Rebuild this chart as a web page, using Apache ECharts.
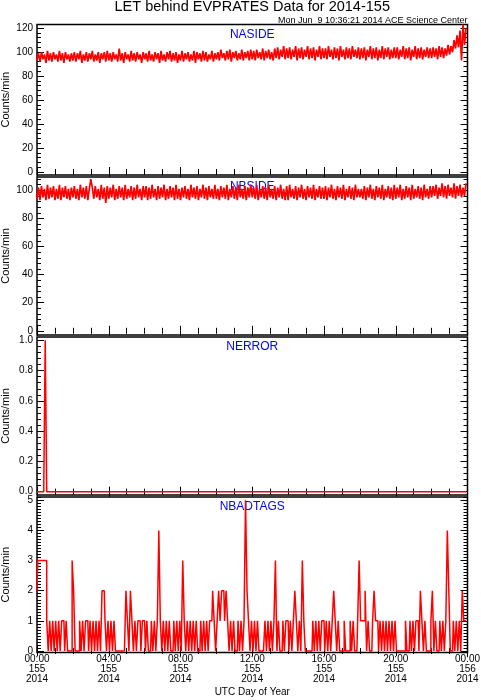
<!DOCTYPE html>
<html>
<head>
<meta charset="utf-8">
<script src="https://cdn.jsdelivr.net/npm/echarts@6/dist/echarts.min.js"></script>
<style>
  html, body { margin: 0; background: #fff; }
  #chart { width: 481px; height: 700px; }
</style>
</head>
<body>
<div id="chart"></div>
<script>
// 5-minute samples, 00:00 to 23:55 UTC, day 155 of 2014 (one row = 2 hours)
const naside = [
  93,99,92,100,94,98,91,101,93,99,92,100,94,98,92,101,93,99,91,100,94,98,92,99,
  93,100,92,99,94,101,91,98,93,100,92,99,94,101,92,98,93,100,91,99,94,100,92,101,
  93,99,92,100,94,98,92,103,93,99,91,100,94,98,92,101,93,99,92,100,94,98,91,100,
  94,99,92,101,93,98,92,100,94,99,91,101,93,98,92,100,94,101,92,99,93,100,91,98,
  93,101,92,99,94,100,92,98,93,101,91,100,94,99,92,101,93,100,92,98,94,101,92,99,
  94,100,93,102,95,99,93,101,94,102,92,100,95,101,93,99,94,102,93,100,95,101,93,102,
  94,101,93,102,95,100,94,103,93,101,95,102,94,100,93,103,95,104,94,102,96,105,94,103,
  95,104,94,102,96,105,93,103,95,104,94,102,96,105,94,103,95,104,93,102,96,105,94,103,
  95,103,94,105,96,102,94,104,95,103,93,105,96,102,94,104,95,103,94,105,96,102,95,104,
  94,103,95,104,93,102,96,105,94,103,95,104,93,102,95,105,94,103,96,104,94,102,95,104,
  95,104,94,102,96,105,94,103,95,104,93,102,96,105,94,103,95,104,94,102,96,104,95,103,
  95,104,96,103,94,105,96,104,95,103,97,106,98,105,100,110,103,114,104,118,93,123,106,120
]

const nbside = [
  94,102,93,103,95,101,93,104,94,102,95,103,93,101,94,104,93,102,95,103,94,101,93,102,
  95,103,94,101,93,104,95,102,94,103,93,101,108,102,94,103,95,101,93,104,94,102,91,103,
  94,102,95,104,93,101,94,103,95,102,93,104,94,101,95,103,93,102,94,104,95,101,93,103,
  95,103,93,102,94,104,95,101,93,103,94,102,95,104,93,101,94,103,95,102,93,104,94,101,
  93,102,95,103,94,101,93,104,95,102,94,103,93,101,95,104,94,102,93,103,95,101,94,104,
  94,101,93,103,95,102,94,104,93,101,95,103,94,102,93,104,95,101,94,103,93,102,95,104,
  95,102,94,104,93,101,95,103,94,102,93,104,95,101,94,103,93,102,95,104,94,101,93,103,
  93,104,95,101,94,103,93,102,95,104,94,101,93,103,95,102,94,104,93,101,95,103,94,102,
  94,103,93,102,95,104,94,101,93,103,95,102,94,104,93,101,95,103,94,102,93,104,95,101,
  95,101,94,103,93,102,95,104,94,101,93,103,95,102,94,104,93,101,95,103,94,102,93,104,
  94,102,95,104,93,101,94,103,95,102,93,104,94,101,95,103,94,102,93,104,95,101,94,103,
  95,103,96,104,94,102,96,105,95,103,94,104,96,102,95,105,94,103,96,104,95,102,96,105
]

const nerror = [
  0,0,0,0,0,0,1,0,0,0,0,0,0,0,0,0,0,0,0,0,0,0,0,0,
  0,0,0,0,0,0,0,0,0,0,0,0,0,0,0,0,0,0,0,0,0,0,0,0,
  0,0,0,0,0,0,0,0,0,0,0,0,0,0,0,0,0,0,0,0,0,0,0,0,
  0,0,0,0,0,0,0,0,0,0,0,0,0,0,0,0,0,0,0,0,0,0,0,0,
  0,0,0,0,0,0,0,0,0,0,0,0,0,0,0,0,0,0,0,0,0,0,0,0,
  0,0,0,0,0,0,0,0,0,0,0,0,0,0,0,0,0,0,0,0,0,0,0,0,
  0,0,0,0,0,0,0,0,0,0,0,0,0,0,0,0,0,0,0,0,0,0,0,0,
  0,0,0,0,0,0,0,0,0,0,0,0,0,0,0,0,0,0,0,0,0,0,0,0,
  0,0,0,0,0,0,0,0,0,0,0,0,0,0,0,0,0,0,0,0,0,0,0,0,
  0,0,0,0,0,0,0,0,0,0,0,0,0,0,0,0,0,0,0,0,0,0,0,0,
  0,0,0,0,0,0,0,0,0,0,0,0,0,0,0,0,0,0,0,0,0,0,0,0,
  0,0,0,0,0,0,0,0,0,0,0,0,0,0,0,0,0,0,0,0,0,0,0,0
]

const nbadtags = [
  2,3,3,3,3,3,3,1,0,1,0,1,0,1,0,1,0,1,1,0,1,0,0,0,
  3,2,0,0,0,1,0,1,0,1,1,0,1,0,1,0,1,0,1,0,2,2,1,0,
  1,0,1,0,1,0,0,0,0,0,0,0,2,1,0,2,1,0,1,0,1,1,0,1,
  1,0,1,0,0,1,0,1,0,1,4,1,0,1,0,1,0,1,0,0,1,0,1,0,
  1,0,3,1,0,1,0,1,0,1,0,1,0,0,1,0,1,0,1,0,1,1,2,1,
  0,1,2,1,2,2,1,2,1,0,1,0,1,0,0,1,0,1,0,1,5,2,1,0,
  1,0,1,0,1,0,0,0,0,1,0,1,0,1,0,1,3,0,1,0,0,1,0,1,
  1,0,1,0,1,2,1,0,1,0,3,1,0,0,0,0,0,1,0,1,0,1,0,1,
  1,0,1,0,1,0,1,2,1,0,1,0,0,0,1,0,0,0,1,0,1,0,0,1,
  3,1,1,1,2,0,1,0,0,1,2,1,1,0,1,0,1,0,1,0,1,0,1,0,
  1,0,0,0,0,0,0,1,0,0,1,0,1,0,1,1,0,2,1,0,1,0,0,0,
  1,2,0,1,0,0,1,0,1,0,1,4,2,0,0,1,0,1,0,1,0,2,1,1
]

const timeLabels = ['00:00\n155\n2014', '04:00\n155\n2014', '08:00\n155\n2014',
  '12:00\n155\n2014', '16:00\n155\n2014', '20:00\n155\n2014', '00:00\n156\n2014']

const yTicks1 = [0, 20, 40, 60, 80, 100, 120]
const yTicks2 = [0, 20, 40, 60, 80, 100]
const yTicks3 = [0, 0.2, 0.4, 0.6, 0.8, 1.0]
const yTicks4 = [0, 1, 2, 3, 4, 5]

const STEP_MIN = 5
const FONT = '"Liberation Sans", Arial, sans-serif'
const RED = '#ff0000'

const panels = [
  { label: 'NASIDE', data: naside, ticks: yTicks1, minor: 4, min: -2.5, max: 123, top: 24.5, height: 150.5, digits: 0, step: false },
  { label: 'NBSIDE', data: nbside, ticks: yTicks2, minor: 4, min: -3, max: 109.5, top: 177, height: 158, digits: 0, step: false },
  { label: 'NERROR', data: nerror, ticks: yTicks3, minor: 0.04, min: -0.022, max: 1.022, top: 337, height: 158, digits: 1, step: true },
  { label: 'NBADTAGS', data: nbadtags, ticks: yTicks4, minor: 0.1, min: -0.05, max: 5.11, top: 497, height: 155.5, digits: 0, step: true }
]

const LEFT = 37
const WIDTH = 430.5

function minorValues(p) {
  const out = []
  const k0 = Math.ceil(p.min / p.minor)
  const k1 = Math.floor(p.max / p.minor)
  for (let k = k0; k <= k1; k++) {
    const v = +(k * p.minor).toFixed(4)
    if (!p.ticks.some(t => Math.abs(t - v) < 1e-6)) out.push(v)
  }
  return out
}

const grids = []
const xAxes = []
const yAxes = []
const series = []
const graphics = []

panels.forEach((p, i) => {
  grids.push({
    left: LEFT, width: WIDTH, top: p.top, height: p.height,
    outerBoundsMode: 'none', containLabel: false,
    show: true, borderColor: '#000', borderWidth: 1.5, backgroundColor: 'transparent'
  })

  ;['bottom', 'top'].forEach(pos => {
    xAxes.push({
      gridIndex: i, type: 'value', position: pos, min: 0, max: 1440, interval: 240,
      axisLine: { show: false },
      splitLine: { show: false },
      axisTick: { inside: true, length: 5, lineStyle: { color: '#000', width: 1 } },
      minorTick: { show: true, splitNumber: 4, length: 3, lineStyle: { color: '#000', width: 1 } },
      axisLabel: {
        show: pos === 'bottom' && i === panels.length - 1,
        formatter: v => timeLabels[Math.round(v / 240)],
        fontFamily: FONT, fontSize: 10, color: '#000', lineHeight: 10, margin: 2,
        showMinLabel: true, showMaxLabel: true, hideOverlap: false
      }
    })
  })

  const minors = minorValues(p)
  ;['left', 'right'].forEach(pos => {
    yAxes.push({
      gridIndex: i, type: 'value', position: pos, min: p.min, max: p.max,
      axisLine: { show: false }, splitLine: { show: false },
      axisTick: { inside: true, length: 7, customValues: p.ticks, lineStyle: { color: '#000', width: 1 } },
      axisLabel: {
        show: pos === 'left', customValues: p.ticks,
        formatter: v => v.toFixed(p.digits),
        fontFamily: FONT, fontSize: 10, color: '#000', margin: 4
      },
      name: pos === 'left' ? 'Counts/min' : '',
      nameLocation: 'middle', nameGap: 26, nameMoveOverlap: false,
      nameTextStyle: { fontFamily: FONT, fontSize: 11, color: '#000' }
    })
    yAxes.push({
      gridIndex: i, type: 'value', position: pos, min: p.min, max: p.max,
      axisLine: { show: false }, splitLine: { show: false },
      axisTick: { inside: true, length: 4, customValues: minors, lineStyle: { color: '#000', width: 1 } },
      axisLabel: { show: false }
    })
  })

  const line = {
    type: 'line', name: p.label,
    xAxisIndex: i * 2, yAxisIndex: i * 4,
    data: p.data.map((v, k) => [k * STEP_MIN, v]),
    symbol: 'none', showSymbol: false, silent: true, z: 10,
    lineStyle: { color: RED, width: p.step ? 1.5 : 1.7 }
  }
  if (p.step) line.step = 'middle'
  series.push(line)

  graphics.push({
    type: 'text', z: 1,
    style: {
      text: p.label, x: LEFT + WIDTH / 2, y: p.top + 10,
      fill: '#0000ff', font: '12px ' + FONT, textAlign: 'center', textVerticalAlign: 'middle'
    }
  })
})

graphics.push({
  type: 'text', z: 1,
  style: { text: 'LET behind EVPRATES Data for 2014-155', x: LEFT + WIDTH / 2, y: 7,
    fill: '#000', font: '14.5px ' + FONT, textAlign: 'center', textVerticalAlign: 'middle' }
})
graphics.push({
  type: 'text', z: 1,
  style: { text: 'Mon Jun  9 10:36:21 2014 ACE Science Center', x: LEFT + WIDTH, y: 20.5,
    fill: '#000', font: '9px ' + FONT, textAlign: 'right', textVerticalAlign: 'middle' }
})
graphics.push({
  type: 'text', z: 1,
  style: { text: 'UTC Day of Year', x: LEFT + WIDTH / 2, y: 692,
    fill: '#000', font: '10px ' + FONT, textAlign: 'center', textVerticalAlign: 'middle' }
})

const chart = echarts.init(document.getElementById('chart'), null, { renderer: 'canvas' })
chart.setOption({
  animation: false,
  backgroundColor: '#fff',
  grid: grids,
  xAxis: xAxes,
  yAxis: yAxes,
  series: series,
  graphic: { elements: graphics }
})
</script>
</body>
</html>
